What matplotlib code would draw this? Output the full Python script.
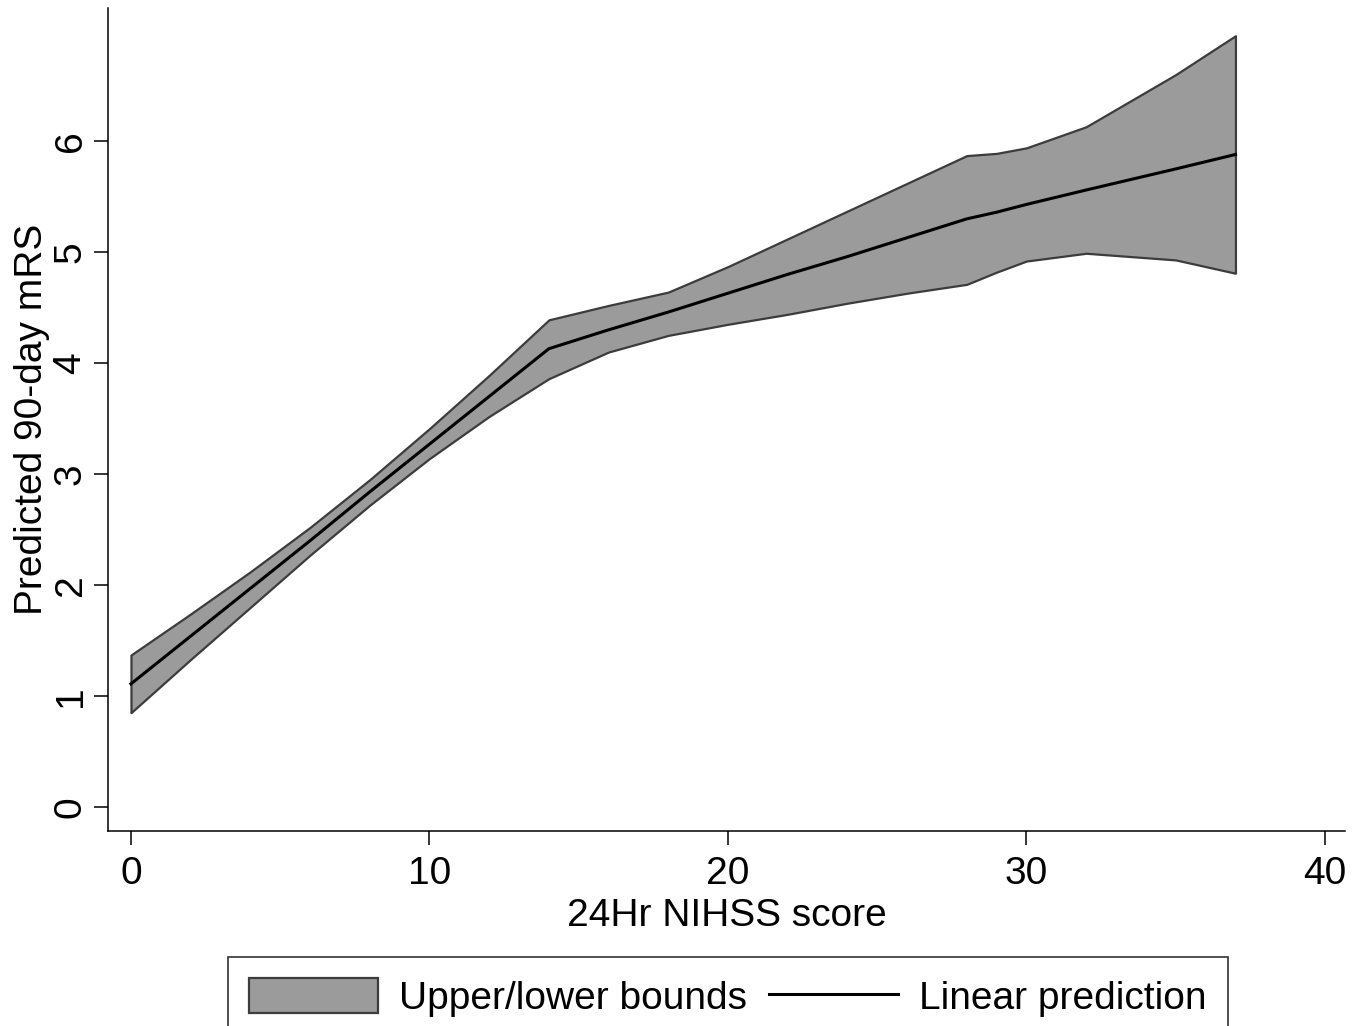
import matplotlib
matplotlib.use("Agg")
import matplotlib.pyplot as plt
from matplotlib.patches import Patch
from matplotlib.lines import Line2D

# Values
nihss = [0, 2, 4, 6, 8, 10, 12, 14, 16, 18, 20, 22, 24, 26, 28, 29, 30, 32, 35, 37]
pred = [1.11, 1.54, 1.97, 2.40, 2.84, 3.27, 3.70, 4.13, 4.30, 4.46, 4.63, 4.80,
        4.96, 5.13, 5.30, 5.36, 5.43, 5.56, 5.75, 5.88]
upper = [1.37, 1.74, 2.12, 2.52, 2.95, 3.41, 3.89, 4.39, 4.52, 4.64, 4.87, 5.12,
         5.37, 5.62, 5.87, 5.89, 5.94, 6.13, 6.60, 6.95]
lower = [0.85, 1.33, 1.80, 2.27, 2.72, 3.14, 3.52, 3.86, 4.10, 4.25, 4.35, 4.44,
         4.54, 4.63, 4.71, 4.82, 4.92, 4.99, 4.93, 4.81]
xticks = [0, 10, 20, 30, 40]
yticks = [0, 1, 2, 3, 4, 5, 6]

plt.rcParams['font.family'] = ['Liberation Sans', 'DejaVu Sans']
fs = 28
band_fill = "#9b9b9b"
band_edge = "#3c3c3c"

W, H = 1363, 1026
fig = plt.figure(figsize=(W / 100, H / 100), dpi=100)
ax = fig.add_axes([108 / W, 1 - 831 / H, (1345 - 108) / W, (831 - 8) / H])

ax.fill_between(nihss, lower, upper, facecolor=band_fill, edgecolor=band_edge, linewidth=1.6)
ax.plot(nihss, pred, color="black", linewidth=2.2)

ax.set_xlim(-0.77, 40.67)
ax.set_ylim(-0.216, 7.2)
ax.set_xticks(xticks)
ax.set_yticks(yticks)
ax.set_xticklabels([str(t) for t in xticks], fontsize=fs)
ax.set_yticklabels([str(t) for t in yticks], fontsize=fs, rotation=90, va="center")
ax.tick_params(axis="both", direction="out", length=10, width=1.1, color="black")
ax.tick_params(axis="x", pad=8)
ax.tick_params(axis="y", pad=4)

for side in ["top", "right"]:
    ax.spines[side].set_visible(False)
for side in ["left", "bottom"]:
    ax.spines[side].set_linewidth(1.1)

ax.set_xlabel("24Hr NIHSS score", fontsize=fs, labelpad=4)
ax.set_ylabel("Predicted 90-day mRS", fontsize=fs, labelpad=2)

handles = [
    Patch(facecolor=band_fill, edgecolor=band_edge, linewidth=1.6, label="Upper/lower bounds"),
    Line2D([], [], color="black", linewidth=2.2, label="Linear prediction"),
]
leg_top = 1 - 957 / H
leg = fig.legend(handles=handles, loc="upper left", ncol=2, mode="expand",
                 bbox_to_anchor=(228 / W, leg_top - 0.1, 1000 / W, 0.1),
                 fontsize=fs, frameon=True, fancybox=False, edgecolor="black",
                 handlelength=3.3, handleheight=1.0, handletextpad=0.55,
                 borderpad=0.55, borderaxespad=0, columnspacing=1.8)
leg.get_frame().set_linewidth(1.2)

fig.savefig("out.png", dpi=100)
